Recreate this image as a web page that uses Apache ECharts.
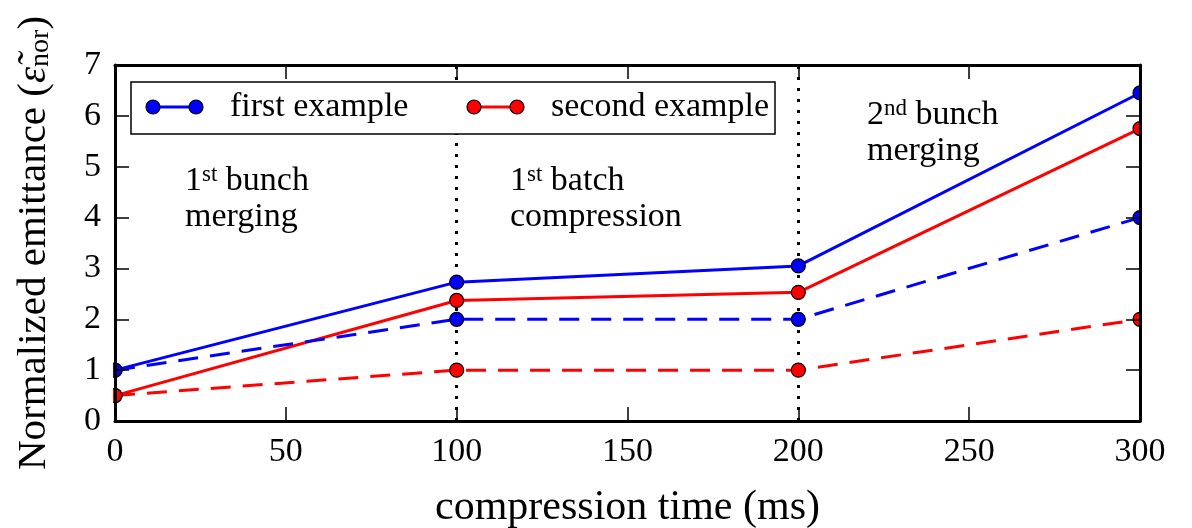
<!DOCTYPE html>
<html>
<head>
<meta charset="utf-8">
<script src="https://cdn.jsdelivr.net/npm/echarts@6/dist/echarts.min.js"></script>
<style>
  html, body { margin: 0; padding: 0; background: #fff; }
  #chart { width: 1192px; height: 528px; }
</style>
</head>
<body>
<div id="chart"></div>
<script>
// Compression time points (ms)
const times = [0, 100, 200, 300];
// Normalized emittance values
const firstSolid   = [1.0, 2.73, 3.05, 6.45];
const firstDashed  = [1.0, 2.0, 2.0, 4.0];
const secondSolid  = [0.5, 2.37, 2.53, 5.75];
const secondDashed = [0.5, 1.0, 1.0, 2.0];
// Boundaries between stages
const stageBoundaries = [100, 200];
// Legend entries
const legendNames = ['first example', 'second example'];

const FONT = '"Liberation Serif", "DejaVu Serif", serif';
const BLUE = '#0000ff';
const RED = '#ff0000';

function pairs(ys) { return times.map((t, i) => [t, ys[i]]); }

function lineSeries(name, ys, color, dashed, extra) {
  return Object.assign({
    name: name,
    type: 'line',
    data: pairs(ys),
    symbol: 'circle',
    symbolSize: 14,
    showAllSymbol: true,
    clip: false,
    z: 3,
    itemStyle: { color: color, borderColor: '#000', borderWidth: 1.2 },
    lineStyle: { color: color, width: 3, type: dashed ? [20, 12] : 'solid' },
    emphasis: { disabled: true },
    animation: false
  }, extra || {});
}

const chart = echarts.init(document.getElementById('chart'), null, { renderer: 'canvas' });

const G = { left: 115, top: 65, right: 1140, bottom: 421 };

const supRich = {
  t: { fontFamily: FONT, fontSize: 34, color: '#000', lineHeight: 36 },
  s: { fontFamily: FONT, fontSize: 23, color: '#000', verticalAlign: 'top', lineHeight: 36, padding: [0, 0, 14, 0] }
};

function note(x, y, line1, line2) {
  return {
    type: 'text',
    left: x, top: y, z: 20,
    style: { text: line1 + '\n{t|' + line2 + '}', rich: supRich, fill: '#000' }
  };
}

const legendY = 107;
function legendItem(x0, color, label) {
  return [
    { type: 'line', z: 31, shape: { x1: x0, y1: legendY, x2: x0 + 43, y2: legendY }, style: { stroke: color, lineWidth: 3 } },
    { type: 'circle', z: 32, shape: { cx: x0, cy: legendY, r: 7 }, style: { fill: color, stroke: '#000', lineWidth: 1.2 } },
    { type: 'circle', z: 32, shape: { cx: x0 + 43, cy: legendY, r: 7 }, style: { fill: color, stroke: '#000', lineWidth: 1.2 } },
    { type: 'text', z: 32, x: x0 + 77, y: legendY, style: { text: label, fontFamily: FONT, fontSize: 34, fill: '#000', verticalAlign: 'middle' } }
  ];
}

const frameAxis = {
  axisLine: { show: true, onZero: false, lineStyle: { color: '#000', width: 3 } },
  axisTick: { show: true, inside: true, length: 14, lineStyle: { color: '#000', width: 1.5 } },
  splitLine: { show: false }
};
const tickLabel = { fontFamily: FONT, fontSize: 34, color: '#000', margin: 14 };

const option = {
  backgroundColor: '#fff',
  animation: false,
  grid: {
    left: G.left, top: G.top, width: G.right - G.left, height: G.bottom - G.top,
    containLabel: false, outerBoundsMode: 'none'
  },
  xAxis: [Object.assign({
    type: 'value', min: 0, max: 300, interval: 50, z: 10,
    name: 'compression time (ms)', nameLocation: 'middle', nameGap: 66,
    nameTextStyle: { fontFamily: FONT, fontSize: 42, color: '#000' },
    axisLabel: tickLabel
  }, frameAxis), Object.assign({
    type: 'value', position: 'top', min: 0, max: 300, interval: 50, z: 10,
    axisLabel: { show: false }
  }, frameAxis)],
  yAxis: [Object.assign({
    type: 'value', min: 0, max: 7, interval: 1, z: 10,
    name: 'Normalized emittance ({e|ε̃}{sub|nor})', nameLocation: 'middle', nameGap: 60, nameRotate: 90,
    nameTextStyle: {
      fontFamily: FONT, fontSize: 41, color: '#000',
      rich: {
        e: { fontFamily: FONT, fontSize: 41, color: '#000', fontStyle: 'italic' },
        sub: { fontFamily: FONT, fontSize: 28, color: '#000', verticalAlign: 'bottom', padding: [12, 0, 0, 0] }
      }
    },
    axisLabel: tickLabel
  }, frameAxis), Object.assign({
    type: 'value', position: 'right', min: 0, max: 7, interval: 1, z: 10,
    axisLabel: { show: false }
  }, frameAxis)],
  series: [
    lineSeries(legendNames[0], firstSolid, BLUE, false, {
      markLine: {
        silent: true, symbol: 'none', z: 1,
        label: { show: false },
        lineStyle: { color: '#000', width: 3, type: [3, 8] },
        data: stageBoundaries.map(v => ({ xAxis: v }))
      }
    }),
    lineSeries(legendNames[1], secondSolid, RED, false),
    lineSeries(legendNames[0] + ' (dashed)', firstDashed, BLUE, true),
    lineSeries(legendNames[1] + ' (dashed)', secondDashed, RED, true)
  ],
  graphic: [
    // hide the parts of the end markers that fall outside the frame
    { type: 'rect', z: 5, shape: { x: G.left - 14, y: G.top - 2, width: 12, height: G.bottom - G.top + 4 }, style: { fill: '#fff' } },
    { type: 'rect', z: 5, shape: { x: G.right + 2, y: G.top - 2, width: 14, height: G.bottom - G.top + 4 }, style: { fill: '#fff' } },
    // legend box
    { type: 'rect', z: 30, shape: { x: 131, y: 82, width: 644, height: 52 }, style: { fill: '#fff', stroke: '#000', lineWidth: 1.5 } }
  ]
    .concat(legendItem(153, BLUE, legendNames[0]))
    .concat(legendItem(474, RED, legendNames[1]))
    .concat([
      note(185, 163, '{t|1}{s|st}{t| bunch}', 'merging'),
      note(510, 163, '{t|1}{s|st}{t| batch}', 'compression'),
      note(867, 97, '{t|2}{s|nd}{t| bunch}', 'merging')
    ])
};

chart.setOption(option);
</script>
</body>
</html>
